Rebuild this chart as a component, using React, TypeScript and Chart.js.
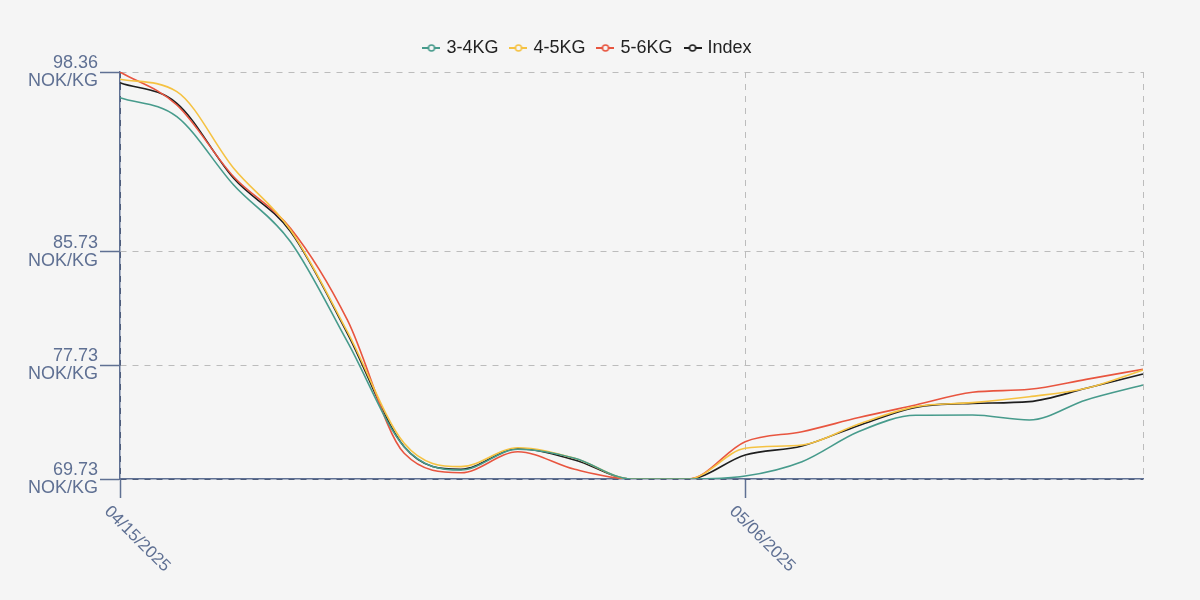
import React, { useEffect, useRef } from "react";
import { Chart, registerables } from "chart.js";

Chart.register(...registerables);

// ---------- data ----------
const dates = [
  "04/15/2025", "04/17/2025", "04/19/2025", "04/21/2025", "04/23/2025",
  "04/25/2025", "04/27/2025", "04/29/2025", "05/01/2025", "05/03/2025",
  "05/04/2025", "05/06/2025", "05/08/2025", "05/10/2025", "05/12/2025",
  "05/14/2025", "05/16/2025", "05/18/2025", "05/20/2025",
];
const xTickLabels = ["04/15/2025", "05/06/2025"];
const yTickValues = [69.73, 77.73, 85.73, 98.36];
const unit = "NOK/KG";

const seriesNames = ["3-4KG", "4-5KG", "5-6KG", "Index"];
const values34 = [96.55, 95.22, 90.41, 86.42, 79.39, 72.0, 70.36, 71.82, 71.19, 69.73, 69.73, 69.94, 70.95, 73.07, 74.21, 74.23, 73.88, 75.29, 76.34];
const values45 = [97.85, 96.98, 91.59, 87.25, 80.09, 72.24, 70.6, 71.93, 71.19, 69.73, 69.73, 71.89, 72.12, 73.6, 74.82, 75.1, 75.52, 76.11, 77.4];
const values56 = [98.36, 96.04, 90.99, 87.37, 80.92, 71.54, 70.17, 71.65, 70.41, 69.73, 69.73, 72.35, 73.06, 74.05, 74.94, 75.83, 76.04, 76.74, 77.45];
const valuesIndex = [97.61, 96.16, 90.88, 87.13, 79.98, 72.0, 70.41, 71.86, 71.07, 69.73, 69.73, 71.42, 72.05, 73.5, 74.77, 75.05, 75.17, 76.11, 77.12];
const seriesColors = ["#479b8c", "#f5c242", "#e8553f", "#1e1e1e"];

// ---------- styles ----------
const FONT = "'Liberation Sans', Arial, Helvetica, sans-serif";
const AXIS = "#5f7093";
const EDGE = "#3f4a64";
const GRID = "#bcbcbc";
const BG = "#f5f5f5";

function legendMarker(color: string): HTMLCanvasElement {
  const c = document.createElement("canvas");
  c.width = 18;
  c.height = 10;
  const ctx = c.getContext("2d")!;
  ctx.strokeStyle = color;
  ctx.lineWidth = 2;
  ctx.beginPath();
  ctx.moveTo(0, 5);
  ctx.lineTo(18, 5);
  ctx.stroke();
  ctx.beginPath();
  ctx.arc(9, 5, 3, 0, Math.PI * 2);
  ctx.fillStyle = BG;
  ctx.fill();
  ctx.lineWidth = 1.5;
  ctx.stroke();
  return c;
}

const bgPlugin = {
  id: "bg",
  beforeDraw(chart: any) {
    const { ctx, width, height } = chart;
    ctx.save();
    ctx.fillStyle = BG;
    ctx.fillRect(0, 0, width, height);
    ctx.restore();
  },
};

const legendPlacePlugin = {
  id: "legendPlace",
  beforeLayout(chart: any) {
    const lg = chart.legend;
    if (lg && !lg.__patched) {
      const orig = lg.fit.bind(lg);
      lg.fit = function () {
        orig();
        this.height = 47;
      };
      lg.__patched = true;
    }
  },
  afterLayout(chart: any) {
    const lg = chart.legend;
    if (lg) lg.left += 34;
  },
};

const xLabelPlugin = {
  id: "xLabels",
  afterDraw(chart: any) {
    const xs = chart.scales.x;
    const ctx = chart.ctx;
    ctx.save();
    ctx.font = `17px ${FONT}`;
    ctx.fillStyle = AXIS;
    ctx.textAlign = "left";
    ctx.textBaseline = "middle";
    xTickLabels.forEach((lbl) => {
      const i = dates.indexOf(lbl);
      const px = xs.getPixelForValue(i);
      ctx.save();
      ctx.translate(px - 13, chart.chartArea.bottom + 30);
      ctx.rotate(Math.PI / 4);
      ctx.fillText(lbl, 0, 0);
      ctx.restore();
    });
    ctx.restore();
  },
};

export default function App() {
  const ref = useRef<HTMLCanvasElement>(null);

  useEffect(() => {
    document.body.style.margin = "0";
    document.body.style.background = BG;
    const all = [values34, values45, values56, valuesIndex];
    const yMin = yTickValues[0];
    const yMax = yTickValues[yTickValues.length - 1];
    const lastIdx = dates.length - 1;

    const chart = new Chart(ref.current!, {
      type: "line",
      data: {
        labels: dates,
        datasets: seriesNames.map((name, k) => ({
          label: name,
          data: all[k],
          borderColor: seriesColors[k],
          backgroundColor: seriesColors[k],
          borderWidth: 1.6,
          pointRadius: 0,
          pointHoverRadius: 0,
          pointStyle: legendMarker(seriesColors[k]) as any,
          cubicInterpolationMode: "monotone" as const,
          fill: false,
        })),
      },
      options: {
        animation: false,
        responsive: false,
        layout: { padding: { left: 0, right: 57, top: 25, bottom: 0 } },
        plugins: {
          legend: {
            position: "top",
            labels: {
              usePointStyle: true,
              pointStyleWidth: 12,
              padding: 14,
              color: "#222",
              font: { size: 18, family: FONT },
            },
          },
          tooltip: { enabled: false },
        },
        scales: {
          x: {
            type: "category",
            afterBuildTicks: (s: any) => {
              const idx = xTickLabels.map((l) => dates.indexOf(l));
              idx.push(lastIdx);
              s.ticks = idx.map((v) => ({ value: v }));
            },
            afterFit: (s: any) => {
              s.height = 121;
            },
            ticks: { display: false },
            grid: {
              color: (c: any) => (c.tick && c.tick.value === 0 ? EDGE : GRID),
              lineWidth: 1,
              tickColor: (c: any) => (c.tick && c.tick.value === lastIdx ? "rgba(0,0,0,0)" : AXIS),
              tickLength: 19,
              tickWidth: 1.5,
            },
            border: { display: true, color: AXIS, width: 1.5, dash: [6, 6] },
          },
          y: {
            min: yMin,
            max: yMax,
            afterBuildTicks: (s: any) => {
              s.ticks = yTickValues.map((v) => ({ value: v }));
            },
            afterFit: (s: any) => {
              s.width = 120;
            },
            ticks: {
              color: AXIS,
              padding: 2,
              font: { size: 18, family: FONT, lineHeight: 1.0 },
              callback: (v: any) => [Number(v).toFixed(2), unit],
            },
            grid: {
              color: (c: any) => (c.tick && c.tick.value === yMin ? EDGE : GRID),
              lineWidth: 1,
              tickColor: AXIS,
              tickLength: 20,
              tickWidth: 1.5,
            },
            border: { display: true, color: AXIS, width: 1.5, dash: [6, 6] },
          },
        },
      },
      plugins: [bgPlugin, legendPlacePlugin, xLabelPlugin],
    });
    return () => chart.destroy();
  }, []);

  return (
    <div style={{ width: 1200, height: 600, background: BG }}>
      <canvas ref={ref} width={1200} height={600} style={{ display: "block" }} />
    </div>
  );
}
